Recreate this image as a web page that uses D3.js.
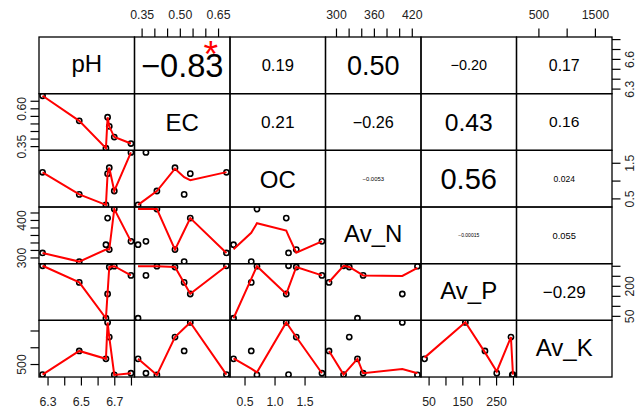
<!DOCTYPE html>
<html>
<head>
<meta charset="utf-8">
<script src="https://cdn.jsdelivr.net/npm/d3@7"></script>
<style>
  body { margin: 0; background: #fff; }
  svg { display: block; }
</style>
</head>
<body>
<svg id="chart"></svg>
<script>
// variables (one row per soil sample)
const vars = ["pH", "EC", "OC", "Av_N", "Av_P", "Av_K"];
const pH   = [6.27, 6.49, 6.65, 6.66, 6.67, 6.70, 6.80];
const EC   = [0.683, 0.517, 0.336, 0.541, 0.481, 0.410, 0.367];
const OC   = [1.233, 0.612, 0.317, 1.195, 1.362, 0.707, 1.790];
const Av_N = [312, 289, 334, 405, 321, 429, 343];
const Av_P = [300, 217, 38, 159, 294, 298, 252];
const Av_K = [185, 890, 655, 1740, 1305, 175, 225];

// tick values and the labels that are printed on each outer axis
const pHTicks  = [6.3, 6.4, 6.5, 6.6, 6.7, 6.8];
const ECTicks  = [0.35, 0.40, 0.45, 0.50, 0.55, 0.60, 0.65];
const OCTicks  = [0.5, 1.0, 1.5];
const AvNTicks = [300, 320, 340, 360, 380, 400, 420];
const AvPTicks = [50, 100, 150, 200, 250, 300];
const AvKTicks = [500, 1000, 1500];

const pHBottom  = ["6.3", "6.5", "6.7"];
const pHRight   = ["6.3", "6.6"];
const ECTop     = ["0.35", "0.50", "0.65"];
const ECLeft    = ["0.35", "0.60"];
const OCBottom  = ["0.5", "1.0", "1.5"];
const OCRight   = ["0.5", "1.5"];
const AvNTop    = ["300", "360", "420"];
const AvNLeft   = ["300", "400"];
const AvPBottom = ["50", "150", "250"];
const AvPRight  = ["50", "200"];
const AvKTop    = ["500", "1500"];
const AvKLeft   = ["500"];

// correlations shown in the upper panels (row by row)
const corText  = ["-0.83", "0.19", "0.50", "-0.20", "0.17",
                  "0.21", "-0.26", "0.43", "0.16",
                  "-0.0053", "0.56", "0.024",
                  "-0.00015", "0.055",
                  "-0.29"];
const corStars = ["*", "", "", "", "", "", "", "", "", "", "", "", "", "", ""];

const series = [pH, EC, OC, Av_N, Av_P, Av_K];
const tickSets = [pHTicks, ECTicks, OCTicks, AvNTicks, AvPTicks, AvKTicks];
const colLabels = [pHBottom, ECTop, OCBottom, AvNTop, AvPBottom, AvKTop];
const rowLabels = [pHRight, ECLeft, OCRight, AvNLeft, AvPRight, AvKLeft];

const W = 636, H = 414;
const L = 39, T = 37, pw = 95.5, ph = 56.67;
const n = vars.length;
const font = '"Liberation Sans", Arial, Helvetica, sans-serif';

const svg = d3.select('#chart')
  .attr('width', W)
  .attr('height', H)
  .style('font-family', font);

svg.append('rect').attr('width', W).attr('height', H).attr('fill', '#fff');

// text metrics (R sizes the correlation text from its string width)
const ctx = document.createElement('canvas').getContext('2d');
ctx.font = '100px ' + font;
const strEm = s => ctx.measureText(s).width / 100;
const ink = s => {
  const m = ctx.measureText(s);
  return (m.actualBoundingBoxAscent - m.actualBoundingBoxDescent) / 200;
};

// R's lowess (clowess)
function lowess(xIn, yIn, f = 2 / 3, nsteps = 3) {
  const m = xIn.length;
  const o = d3.range(m).sort((a, b) => xIn[a] - xIn[b]);
  const x = o.map(i => xIn[i]), y = o.map(i => yIn[i]);
  const delta = 0.01 * (x[m - 1] - x[0]);
  const ys = new Array(m).fill(0), rw = new Array(m).fill(0), res = new Array(m).fill(0);
  const ns = Math.max(2, Math.min(m, Math.floor(f * m + 1e-7)));
  const range = x[m - 1] - x[0];

  function lowest(xs, nleft, nright, userw) {
    const w = res;
    const h = Math.max(xs - x[nleft], x[nright] - xs);
    const h9 = 0.999 * h, h1 = 0.001 * h;
    let a = 0, j = nleft;
    while (j < m) {
      w[j] = 0;
      const r = Math.abs(x[j] - xs);
      if (r <= h9) {
        w[j] = r <= h1 ? 1 : Math.pow(1 - Math.pow(r / h, 3), 3);
        if (userw) w[j] *= rw[j];
        a += w[j];
      } else if (x[j] > xs) break;
      j++;
    }
    const nrt = j - 1;
    if (a <= 0) return null;
    for (j = nleft; j <= nrt; j++) w[j] /= a;
    if (h > 0) {
      a = 0;
      for (j = nleft; j <= nrt; j++) a += w[j] * x[j];
      let b = xs - a, c = 0;
      for (j = nleft; j <= nrt; j++) c += w[j] * (x[j] - a) * (x[j] - a);
      if (Math.sqrt(c) > 0.001 * range) {
        b /= c;
        for (j = nleft; j <= nrt; j++) w[j] *= (b * (x[j] - a) + 1);
      }
    }
    let out = 0;
    for (j = nleft; j <= nrt; j++) out += w[j] * y[j];
    return out;
  }

  let iter = 1;
  while (iter <= nsteps + 1) {
    let nleft = 0, nright = ns - 1, last = -1, i = 0;
    for (;;) {
      if (nright < m - 1) {
        const d1 = x[i] - x[nleft], d2 = x[nright + 1] - x[i];
        if (d1 > d2) { nleft++; nright++; continue; }
      }
      const v = lowest(x[i], nleft, nright, iter > 1);
      ys[i] = v === null ? y[i] : v;
      if (last < i - 1) {
        const denom = x[i] - x[last];
        for (let j = last + 1; j < i; j++) {
          const alpha = (x[j] - x[last]) / denom;
          ys[j] = alpha * ys[i] + (1 - alpha) * ys[last];
        }
      }
      last = i;
      const cut = x[last] + delta;
      for (i = last + 1; i < m; i++) {
        if (x[i] > cut) break;
        if (x[i] === x[last]) { ys[i] = ys[last]; last = i; }
      }
      i = Math.max(last + 1, i - 1);
      if (last >= m - 1) break;
    }
    for (let k = 0; k < m; k++) res[k] = y[k] - ys[k];
    let sc = 0;
    for (let k = 0; k < m; k++) sc += Math.abs(res[k]);
    sc /= m;
    if (iter > nsteps) break;
    const ar = res.map(Math.abs).sort((a, b) => a - b);
    const m1 = Math.floor(m / 2);
    const cmad = m % 2 === 0 ? 3 * (ar[m1] + ar[m - m1 - 1]) : 6 * ar[m1];
    if (cmad < 1e-7 * sc) break;
    const c9 = 0.999 * cmad, c1 = 0.001 * cmad;
    for (let k = 0; k < m; k++) {
      const r = Math.abs(y[k] - ys[k]);
      rw[k] = r <= c1 ? 1 : r <= c9 ? Math.pow(1 - Math.pow(r / cmad, 2), 2) : 0;
    }
    iter++;
  }
  return x.map((xv, k) => [xv, ys[k]]);
}

// scales, 4% padding like pairs()
const xs = [], ys = [];
series.forEach((v, k) => {
  const [lo, hi] = d3.extent(v);
  const pad = 0.04 * (hi - lo);
  xs[k] = d3.scaleLinear().domain([lo - pad, hi + pad]).range([L + k * pw, L + (k + 1) * pw]);
  ys[k] = d3.scaleLinear().domain([lo - pad, hi + pad]).range([T + (k + 1) * ph, T + k * ph]);
});

const defs = svg.append('defs');
const line = d3.line();
let c = 0;

for (let i = 0; i < n; i++) {
  for (let j = 0; j < n; j++) {
    const x0 = L + j * pw, y0 = T + i * ph;
    const cx = x0 + pw / 2, cy = y0 + ph / 2;

    if (i === j) {
      const name = vars[i];
      svg.append('text')
        .attr('x', cx)
        .attr('y', cy + ink(name) * 24 + 1)
        .attr('text-anchor', 'middle')
        .attr('font-size', 24)
        .attr('fill', '#000')
        .text(name);
    } else if (i < j) {
      const txt = corText[c], star = corStars[c];
      const r = Math.abs(+txt);
      const base = 0.896 * pw / strEm(txt);
      const fs = base * (r + 0.3) / 1.3;
      const shown = txt.replace('-', '\u2212');
      svg.append('text')
        .attr('x', cx)
        .attr('y', cy + ink(shown) * fs)
        .attr('text-anchor', 'middle')
        .attr('font-size', fs)
        .attr('fill', '#000')
        .text(shown);
      if (star) {
        svg.append('text')
          .attr('x', x0 + 0.8 * pw)
          .attr('y', y0 + 0.2 * ph + ink(star) * base)
          .attr('text-anchor', 'middle')
          .attr('font-size', base)
          .attr('fill', 'red')
          .text(star);
      }
      c++;
    } else {
      const id = 'clip' + i + '_' + j;
      defs.append('clipPath').attr('id', id)
        .append('rect').attr('x', x0).attr('y', y0).attr('width', pw).attr('height', ph);
      const g = svg.append('g').attr('clip-path', `url(#${id})`);
      const xv = series[j], yv = series[i];
      g.selectAll('circle')
        .data(d3.range(xv.length))
        .join('circle')
          .attr('cx', k => xs[j](xv[k]))
          .attr('cy', k => ys[i](yv[k]))
          .attr('r', 2.6)
          .attr('fill', 'none')
          .attr('stroke', '#000')
          .attr('stroke-width', 1.6);
      const fit = lowess(xv, yv).map(([a, b]) => [xs[j](a), ys[i](b)]);
      g.append('path')
        .attr('d', line(fit))
        .attr('fill', 'none')
        .attr('stroke', 'red')
        .attr('stroke-width', 2);
    }

    svg.append('rect')
      .attr('x', x0).attr('y', y0)
      .attr('width', pw).attr('height', ph)
      .attr('fill', 'none')
      .attr('stroke', '#000')
      .attr('stroke-width', 1.3);
  }
}

// outer axes, alternating sides like pairs()
function drawAxis(k, side) {
  const horiz = side === 'top' || side === 'bottom';
  const sc = horiz ? xs[k] : ys[k];
  const labs = horiz ? colLabels[k] : rowLabels[k];
  const gen = side === 'top' ? d3.axisTop(sc)
    : side === 'bottom' ? d3.axisBottom(sc)
    : side === 'left' ? d3.axisLeft(sc) : d3.axisRight(sc);
  gen.tickValues(tickSets[k])
    .tickSize(8.5)
    .tickSizeOuter(0)
    .tickFormat(d => labs.find(s => Math.abs(+s - d) < 1e-9) || '');

  const pos = side === 'top' ? `translate(0,${T})`
    : side === 'bottom' ? `translate(0,${T + n * ph})`
    : side === 'left' ? `translate(${L},0)` : `translate(${L + n * pw},0)`;

  const g = svg.append('g').attr('transform', pos).call(gen);
  g.select('.domain').remove();
  g.attr('font-family', font).attr('font-size', 12.3);
  g.selectAll('.tick line').attr('stroke', '#000').attr('stroke-width', 1.2);
  const t = g.selectAll('.tick text').attr('fill', '#222').attr('dy', 0);
  if (side === 'bottom') t.attr('y', 28.6);
  if (side === 'top') t.attr('y', -18.5);
  if (side === 'left') t.attr('transform', 'rotate(-90)').attr('x', 0).attr('y', -13.5).attr('text-anchor', 'middle');
  if (side === 'right') t.attr('transform', 'rotate(-90)').attr('x', 0).attr('y', 22.3).attr('text-anchor', 'middle');
}

for (let k = 0; k < n; k++) {
  drawAxis(k, k % 2 === 0 ? 'bottom' : 'top');
  drawAxis(k, k % 2 === 0 ? 'right' : 'left');
}
</script>
</body>
</html>
